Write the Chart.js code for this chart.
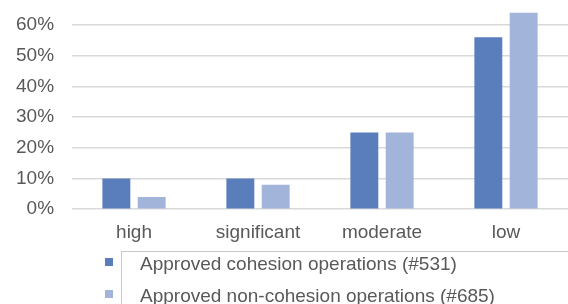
<!DOCTYPE html>
<html>
<head>
<meta charset="utf-8">
<script src="https://cdn.jsdelivr.net/npm/chart.js@4.4.1/dist/chart.umd.min.js"></script>
<style>
  html, body { margin: 0; padding: 0; background: #fff; }
  #wrap { width: 568px; height: 304px; }
</style>
</head>
<body>
<div id="wrap"><canvas id="barChart"></canvas></div>
<script>
const categories = ["high", "significant", "moderate", "low"];
const cohesion = [0.10, 0.10, 0.25, 0.56];
const nonCohesion = [0.04, 0.08, 0.25, 0.64];
const seriesNames = ["Approved cohesion operations (#531)", "Approved non-cohesion operations (#685)"];
const seriesColors = ["#5a7dbc", "#a3b4da"];
const yTicks = [0, 0.1, 0.2, 0.3, 0.4, 0.5, 0.6];

const FONT = "'Liberation Sans', Arial, sans-serif";

// legend drawn by hand: Excel-style box partly cut off by the picture edge
const boxLegend = {
  id: "boxLegend",
  afterDraw(chart) {
    const ctx = chart.ctx;
    ctx.save();
    ctx.strokeStyle = "#c8c8c8";
    ctx.lineWidth = 1;
    ctx.strokeRect(121.5, 251.5, 600, 100);
    ctx.font = "19px " + FONT;
    ctx.textBaseline = "middle";
    chart.data.datasets.forEach((ds, i) => {
      const y = 265 + i * 32;
      ctx.fillStyle = ds.backgroundColor;
      ctx.fillRect(105, y - 7, 8, 8);
      ctx.fillStyle = "#595959";
      ctx.fillText(ds.label, 140, y);
    });
    ctx.restore();
  }
};

new Chart(document.getElementById("barChart").getContext("2d"), {
  type: "bar",
  data: {
    labels: categories,
    datasets: [
      { label: seriesNames[0], data: cohesion, backgroundColor: seriesColors[0] },
      { label: seriesNames[1], data: nonCohesion, backgroundColor: seriesColors[1] },
    ],
  },
  options: {
    responsive: true,
    maintainAspectRatio: false,
    animation: false,
    categoryPercentage: 0.57,
    barPercentage: 0.79,
    layout: { padding: { left: -2, right: -3, top: 5, bottom: 56 } },
    plugins: {
      legend: { display: false },
      tooltip: { enabled: false },
    },
    scales: {
      x: {
        grid: { display: false },
        border: { display: false },
        ticks: { color: "#595959", font: { family: FONT, size: 19 }, padding: 4 },
      },
      y: {
        min: 0,
        max: 0.665,
        border: { display: false },
        grid: { color: "#d9d9d9", lineWidth: 1.5, drawTicks: false },
        afterBuildTicks: (scale) => {
          scale.ticks = yTicks.map((v) => ({ value: v }));
        },
        // tick padding is meant horizontally only
        afterFit: (scale) => {
          scale.paddingTop = 0;
          scale.paddingBottom = 0;
        },
        ticks: {
          color: "#595959",
          font: { family: FONT, size: 19 },
          padding: 18,
          callback: (v) => Math.round(v * 100) + "%",
        },
      },
    },
  },
  plugins: [boxLegend],
});
</script>
</body>
</html>
